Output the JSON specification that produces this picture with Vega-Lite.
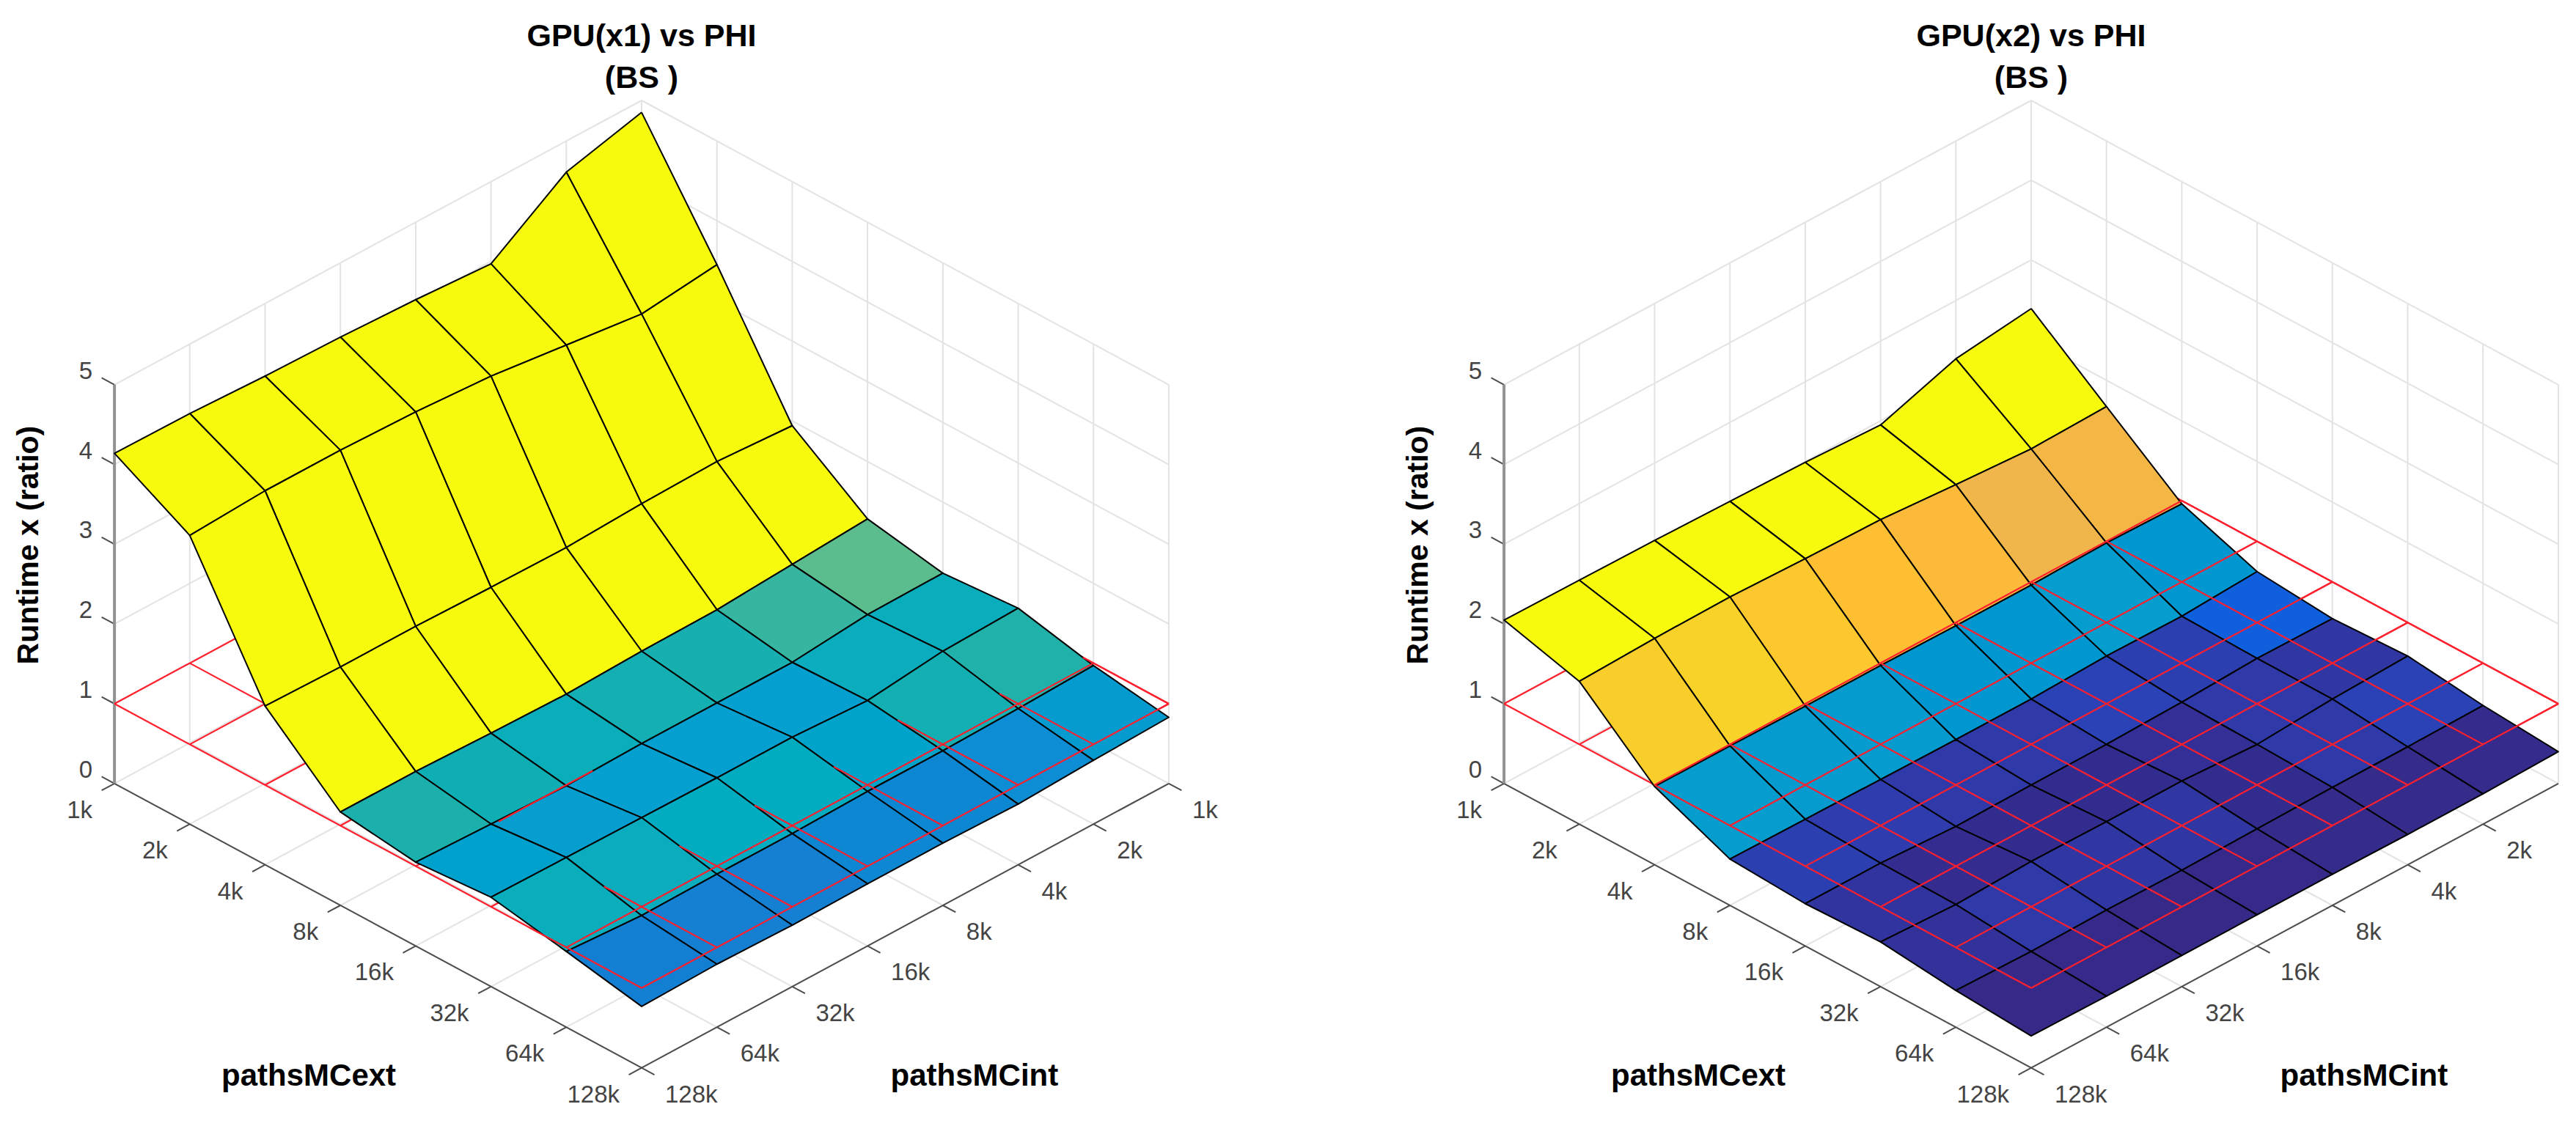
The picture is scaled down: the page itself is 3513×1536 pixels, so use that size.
{"$schema":"https://vega.github.io/schema/vega-lite/v6.json","width":3513,"height":1536,"autosize":{"type":"fit","contains":"padding"},"padding":0,"background":"white","view":{"stroke":null},
"config":{"text":{"font":"Liberation Sans"}},
"datasets":{
"surface":[
{"p":0,"ext":1,"int":1,"ratio":4.85},{"p":0,"ext":1,"int":2,"ratio":4.61},{"p":0,"ext":1,"int":4,"ratio":3.97},{"p":0,"ext":1,"int":8,"ratio":4.03},{"p":0,"ext":1,"int":16,"ratio":4.07},{"p":0,"ext":1,"int":32,"ratio":4.09},{"p":0,"ext":1,"int":64,"ratio":4.13},{"p":0,"ext":1,"int":128,"ratio":4.14},
{"p":0,"ext":2,"int":1,"ratio":3.45},{"p":0,"ext":2,"int":2,"ratio":3.34},{"p":0,"ext":2,"int":4,"ratio":3.46},{"p":0,"ext":2,"int":8,"ratio":3.58},{"p":0,"ext":2,"int":16,"ratio":3.64},{"p":0,"ext":2,"int":32,"ratio":3.67},{"p":0,"ext":2,"int":64,"ratio":3.67},{"p":0,"ext":2,"int":128,"ratio":3.62},
{"p":0,"ext":4,"int":1,"ratio":1.94},{"p":0,"ext":4,"int":2,"ratio":2.0},{"p":0,"ext":4,"int":4,"ratio":1.98},{"p":0,"ext":4,"int":8,"ratio":1.94},{"p":0,"ext":4,"int":16,"ratio":1.95},{"p":0,"ext":4,"int":32,"ratio":1.97},{"p":0,"ext":4,"int":64,"ratio":1.97},{"p":0,"ext":4,"int":128,"ratio":1.99},
{"p":0,"ext":8,"int":1,"ratio":1.28},{"p":0,"ext":8,"int":2,"ratio":1.22},{"p":0,"ext":8,"int":4,"ratio":1.16},{"p":0,"ext":8,"int":8,"ratio":1.15},{"p":0,"ext":8,"int":16,"ratio":1.12},{"p":0,"ext":8,"int":32,"ratio":1.14},{"p":0,"ext":8,"int":64,"ratio":1.17},{"p":0,"ext":8,"int":128,"ratio":1.17},
{"p":0,"ext":16,"int":1,"ratio":1.11},{"p":0,"ext":16,"int":2,"ratio":1.10},{"p":0,"ext":16,"int":4,"ratio":1.01},{"p":0,"ext":16,"int":8,"ratio":1.01},{"p":0,"ext":16,"int":16,"ratio":1.01},{"p":0,"ext":16,"int":32,"ratio":0.99},{"p":0,"ext":16,"int":64,"ratio":1.02},{"p":0,"ext":16,"int":128,"ratio":1.05},
{"p":0,"ext":32,"int":1,"ratio":1.18},{"p":0,"ext":32,"int":2,"ratio":1.15},{"p":0,"ext":32,"int":4,"ratio":1.04},{"p":0,"ext":32,"int":8,"ratio":1.09},{"p":0,"ext":32,"int":16,"ratio":1.09},{"p":0,"ext":32,"int":32,"ratio":1.10},{"p":0,"ext":32,"int":64,"ratio":1.11},{"p":0,"ext":32,"int":128,"ratio":1.12},
{"p":0,"ext":64,"int":1,"ratio":0.97},{"p":0,"ext":64,"int":2,"ratio":0.94},{"p":0,"ext":64,"int":4,"ratio":0.92},{"p":0,"ext":64,"int":8,"ratio":0.92},{"p":0,"ext":64,"int":16,"ratio":0.90},{"p":0,"ext":64,"int":32,"ratio":0.90},{"p":0,"ext":64,"int":64,"ratio":0.89},{"p":0,"ext":64,"int":128,"ratio":0.95},
{"p":0,"ext":128,"int":1,"ratio":0.83},{"p":0,"ext":128,"int":2,"ratio":0.80},{"p":0,"ext":128,"int":4,"ratio":0.76},{"p":0,"ext":128,"int":8,"ratio":0.78},{"p":0,"ext":128,"int":16,"ratio":0.78},{"p":0,"ext":128,"int":32,"ratio":0.77},{"p":0,"ext":128,"int":64,"ratio":0.79},{"p":0,"ext":128,"int":128,"ratio":0.77},
{"p":1,"ext":1,"int":1,"ratio":2.39},{"p":1,"ext":1,"int":2,"ratio":2.27},{"p":1,"ext":1,"int":4,"ratio":1.95},{"p":1,"ext":1,"int":8,"ratio":1.99},{"p":1,"ext":1,"int":16,"ratio":2.01},{"p":1,"ext":1,"int":32,"ratio":2.03},{"p":1,"ext":1,"int":64,"ratio":2.04},{"p":1,"ext":1,"int":128,"ratio":2.05},
{"p":1,"ext":2,"int":1,"ratio":1.67},{"p":1,"ext":2,"int":2,"ratio":1.65},{"p":1,"ext":2,"int":4,"ratio":1.71},{"p":1,"ext":2,"int":8,"ratio":1.78},{"p":1,"ext":2,"int":16,"ratio":1.80},{"p":1,"ext":2,"int":32,"ratio":1.83},{"p":1,"ext":2,"int":64,"ratio":1.82},{"p":1,"ext":2,"int":128,"ratio":1.79},
{"p":1,"ext":4,"int":1,"ratio":0.96},{"p":1,"ext":4,"int":2,"ratio":0.98},{"p":1,"ext":4,"int":4,"ratio":0.96},{"p":1,"ext":4,"int":8,"ratio":0.96},{"p":1,"ext":4,"int":16,"ratio":0.97},{"p":1,"ext":4,"int":32,"ratio":0.97},{"p":1,"ext":4,"int":64,"ratio":0.98},{"p":1,"ext":4,"int":128,"ratio":0.98},
{"p":1,"ext":8,"int":1,"ratio":0.62},{"p":1,"ext":8,"int":2,"ratio":0.57},{"p":1,"ext":8,"int":4,"ratio":0.58},{"p":1,"ext":8,"int":8,"ratio":0.55},{"p":1,"ext":8,"int":16,"ratio":0.55},{"p":1,"ext":8,"int":32,"ratio":0.56},{"p":1,"ext":8,"int":64,"ratio":0.57},{"p":1,"ext":8,"int":128,"ratio":0.58},
{"p":1,"ext":16,"int":1,"ratio":0.54},{"p":1,"ext":16,"int":2,"ratio":0.55},{"p":1,"ext":16,"int":4,"ratio":0.51},{"p":1,"ext":16,"int":8,"ratio":0.49},{"p":1,"ext":16,"int":16,"ratio":0.49},{"p":1,"ext":16,"int":32,"ratio":0.48},{"p":1,"ext":16,"int":64,"ratio":0.53},{"p":1,"ext":16,"int":128,"ratio":0.53},
{"p":1,"ext":32,"int":1,"ratio":0.58},{"p":1,"ext":32,"int":2,"ratio":0.55},{"p":1,"ext":32,"int":4,"ratio":0.49},{"p":1,"ext":32,"int":8,"ratio":0.54},{"p":1,"ext":32,"int":16,"ratio":0.54},{"p":1,"ext":32,"int":32,"ratio":0.55},{"p":1,"ext":32,"int":64,"ratio":0.52},{"p":1,"ext":32,"int":128,"ratio":0.56},
{"p":1,"ext":64,"int":1,"ratio":0.47},{"p":1,"ext":64,"int":2,"ratio":0.46},{"p":1,"ext":64,"int":4,"ratio":0.46},{"p":1,"ext":64,"int":8,"ratio":0.45},{"p":1,"ext":64,"int":16,"ratio":0.44},{"p":1,"ext":64,"int":32,"ratio":0.45},{"p":1,"ext":64,"int":64,"ratio":0.44},{"p":1,"ext":64,"int":128,"ratio":0.46},
{"p":1,"ext":128,"int":1,"ratio":0.40},{"p":1,"ext":128,"int":2,"ratio":0.38},{"p":1,"ext":128,"int":4,"ratio":0.38},{"p":1,"ext":128,"int":8,"ratio":0.39},{"p":1,"ext":128,"int":16,"ratio":0.39},{"p":1,"ext":128,"int":32,"ratio":0.39},{"p":1,"ext":128,"int":64,"ratio":0.39},{"p":1,"ext":128,"int":128,"ratio":0.40}
],
"gridlines":[
{"e1":0,"n1":7,"z1":0,"e2":0,"n2":0,"z2":0},{"e1":0,"n1":7,"z1":1,"e2":0,"n2":0,"z2":1},{"e1":0,"n1":7,"z1":2,"e2":0,"n2":0,"z2":2},{"e1":0,"n1":7,"z1":3,"e2":0,"n2":0,"z2":3},{"e1":0,"n1":7,"z1":4,"e2":0,"n2":0,"z2":4},{"e1":0,"n1":7,"z1":5,"e2":0,"n2":0,"z2":5},
{"e1":0,"n1":0,"z1":0,"e2":7,"n2":0,"z2":0},{"e1":0,"n1":0,"z1":1,"e2":7,"n2":0,"z2":1},{"e1":0,"n1":0,"z1":2,"e2":7,"n2":0,"z2":2},{"e1":0,"n1":0,"z1":3,"e2":7,"n2":0,"z2":3},{"e1":0,"n1":0,"z1":4,"e2":7,"n2":0,"z2":4},{"e1":0,"n1":0,"z1":5,"e2":7,"n2":0,"z2":5},
{"e1":0,"n1":0,"z1":0,"e2":0,"n2":0,"z2":5},{"e1":0,"n1":1,"z1":0,"e2":0,"n2":1,"z2":5},{"e1":0,"n1":2,"z1":0,"e2":0,"n2":2,"z2":5},{"e1":0,"n1":3,"z1":0,"e2":0,"n2":3,"z2":5},{"e1":0,"n1":4,"z1":0,"e2":0,"n2":4,"z2":5},{"e1":0,"n1":5,"z1":0,"e2":0,"n2":5,"z2":5},{"e1":0,"n1":6,"z1":0,"e2":0,"n2":6,"z2":5},
{"e1":1,"n1":0,"z1":0,"e2":1,"n2":0,"z2":5},{"e1":2,"n1":0,"z1":0,"e2":2,"n2":0,"z2":5},{"e1":3,"n1":0,"z1":0,"e2":3,"n2":0,"z2":5},{"e1":4,"n1":0,"z1":0,"e2":4,"n2":0,"z2":5},{"e1":5,"n1":0,"z1":0,"e2":5,"n2":0,"z2":5},{"e1":6,"n1":0,"z1":0,"e2":6,"n2":0,"z2":5},{"e1":7,"n1":0,"z1":0,"e2":7,"n2":0,"z2":5},
{"e1":1,"n1":0,"z1":0,"e2":1,"n2":7,"z2":0},{"e1":2,"n1":0,"z1":0,"e2":2,"n2":7,"z2":0},{"e1":3,"n1":0,"z1":0,"e2":3,"n2":7,"z2":0},{"e1":4,"n1":0,"z1":0,"e2":4,"n2":7,"z2":0},{"e1":5,"n1":0,"z1":0,"e2":5,"n2":7,"z2":0},{"e1":6,"n1":0,"z1":0,"e2":6,"n2":7,"z2":0},{"e1":7,"n1":0,"z1":0,"e2":7,"n2":7,"z2":0},
{"e1":0,"n1":1,"z1":0,"e2":7,"n2":1,"z2":0},{"e1":0,"n1":2,"z1":0,"e2":7,"n2":2,"z2":0},{"e1":0,"n1":3,"z1":0,"e2":7,"n2":3,"z2":0},{"e1":0,"n1":4,"z1":0,"e2":7,"n2":4,"z2":0},{"e1":0,"n1":5,"z1":0,"e2":7,"n2":5,"z2":0},{"e1":0,"n1":6,"z1":0,"e2":7,"n2":6,"z2":0},{"e1":0,"n1":7,"z1":0,"e2":7,"n2":7,"z2":0}
],
"axisLines":[
{"e1":0,"n1":7,"z1":0,"e2":7,"n2":7,"z2":0},{"e1":7,"n1":7,"z1":0,"e2":7,"n2":0,"z2":0},
{"e1":0,"n1":7,"z1":0,"e2":0,"n2":7.17,"z2":0},{"e1":1,"n1":7,"z1":0,"e2":1,"n2":7.17,"z2":0},{"e1":2,"n1":7,"z1":0,"e2":2,"n2":7.17,"z2":0},{"e1":3,"n1":7,"z1":0,"e2":3,"n2":7.17,"z2":0},{"e1":4,"n1":7,"z1":0,"e2":4,"n2":7.17,"z2":0},{"e1":5,"n1":7,"z1":0,"e2":5,"n2":7.17,"z2":0},{"e1":6,"n1":7,"z1":0,"e2":6,"n2":7.17,"z2":0},{"e1":7,"n1":7,"z1":0,"e2":7,"n2":7.17,"z2":0},
{"e1":7,"n1":0,"z1":0,"e2":7.17,"n2":0,"z2":0},{"e1":7,"n1":1,"z1":0,"e2":7.17,"n2":1,"z2":0},{"e1":7,"n1":2,"z1":0,"e2":7.17,"n2":2,"z2":0},{"e1":7,"n1":3,"z1":0,"e2":7.17,"n2":3,"z2":0},{"e1":7,"n1":4,"z1":0,"e2":7.17,"n2":4,"z2":0},{"e1":7,"n1":5,"z1":0,"e2":7.17,"n2":5,"z2":0},{"e1":7,"n1":6,"z1":0,"e2":7.17,"n2":6,"z2":0},{"e1":7,"n1":7,"z1":0,"e2":7.17,"n2":7,"z2":0},
{"e1":0,"n1":7,"z1":0,"e2":-0.17,"n2":7,"z2":0},{"e1":0,"n1":7,"z1":1,"e2":-0.17,"n2":7,"z2":1},{"e1":0,"n1":7,"z1":2,"e2":-0.17,"n2":7,"z2":2},{"e1":0,"n1":7,"z1":3,"e2":-0.17,"n2":7,"z2":3},{"e1":0,"n1":7,"z1":4,"e2":-0.17,"n2":7,"z2":4},{"e1":0,"n1":7,"z1":5,"e2":-0.17,"n2":7,"z2":5}
],
"zAxis":[{"e1":0,"n1":7,"z1":0,"e2":0,"n2":7,"z2":5}],
"redMesh":[
{"e1":0,"n1":0,"e2":0,"n2":7},{"e1":1,"n1":0,"e2":1,"n2":7},{"e1":2,"n1":0,"e2":2,"n2":7},{"e1":3,"n1":0,"e2":3,"n2":7},{"e1":4,"n1":0,"e2":4,"n2":7},{"e1":5,"n1":0,"e2":5,"n2":7},{"e1":6,"n1":0,"e2":6,"n2":7},{"e1":7,"n1":0,"e2":7,"n2":7},
{"e1":0,"n1":0,"e2":7,"n2":0},{"e1":0,"n1":1,"e2":7,"n2":1},{"e1":0,"n1":2,"e2":7,"n2":2},{"e1":0,"n1":3,"e2":7,"n2":3},{"e1":0,"n1":4,"e2":7,"n2":4},{"e1":0,"n1":5,"e2":7,"n2":5},{"e1":0,"n1":6,"e2":7,"n2":6},{"e1":0,"n1":7,"e2":7,"n2":7}
],
"redAbove":[
{"p":0,"e1":7,"n1":0,"e2":7,"n2":7},{"p":0,"e1":6,"n1":0,"e2":6,"n2":7},{"p":0,"e1":4,"n1":5.9,"e2":4,"n2":4.65},
{"p":0,"e1":5.86,"n1":0,"e2":7,"n2":0},{"p":0,"e1":5.75,"n1":1,"e2":7,"n2":1},{"p":0,"e1":5.4,"n1":2,"e2":7,"n2":2},{"p":0,"e1":5.55,"n1":3,"e2":7,"n2":3},{"p":0,"e1":5.5,"n1":4,"e2":7,"n2":4},{"p":0,"e1":5.5,"n1":5,"e2":7,"n2":5},{"p":0,"e1":5.5,"n1":6,"e2":7,"n2":6},{"p":0,"e1":5.5,"n1":7,"e2":7,"n2":7},
{"p":1,"e1":2,"n1":0,"e2":2,"n2":7},{"p":1,"e1":3,"n1":0,"e2":3,"n2":7},{"p":1,"e1":4,"n1":0,"e2":4,"n2":7},{"p":1,"e1":5,"n1":0,"e2":5,"n2":7},{"p":1,"e1":6,"n1":0,"e2":6,"n2":7},{"p":1,"e1":7,"n1":0,"e2":7,"n2":7},
{"p":1,"e1":2,"n1":0,"e2":7,"n2":0},{"p":1,"e1":2,"n1":1,"e2":7,"n2":1},{"p":1,"e1":2,"n1":2,"e2":7,"n2":2},{"p":1,"e1":2,"n1":3,"e2":7,"n2":3},{"p":1,"e1":2,"n1":4,"e2":7,"n2":4},{"p":1,"e1":2,"n1":5,"e2":7,"n2":5},{"p":1,"e1":2,"n1":6,"e2":7,"n2":6},{"p":1,"e1":2,"n1":7,"e2":7,"n2":7}
],
"tickLabels":[{"k":0,"label":"1k"},{"k":1,"label":"2k"},{"k":2,"label":"4k"},{"k":3,"label":"8k"},{"k":4,"label":"16k"},{"k":5,"label":"32k"},{"k":6,"label":"64k"},{"k":7,"label":"128k"}],
"zLabels":[{"z":0,"label":"0"},{"z":1,"label":"1"},{"z":2,"label":"2"},{"z":3,"label":"3"},{"z":4,"label":"4"},{"z":5,"label":"5"}],
"titles":[{"p":0,"e":0,"n":0,"z":5.8,"label":"GPU(x1) vs PHI"},{"p":0,"e":0,"n":0,"z":5.28,"label":"(BS )"},{"p":1,"e":0,"n":0,"z":5.8,"label":"GPU(x2) vs PHI"},{"p":1,"e":0,"n":0,"z":5.28,"label":"(BS )"}],
"axisTitles":[{"e":4.89,"n":9.31,"z":0,"label":"pathsMCext"},{"e":9.31,"n":4.89,"z":0,"label":"pathsMCint"}],
"zTitle":[{"e":-3.5,"n":4.63,"z":0,"label":"Runtime x (ratio)"}]
},
"encoding":{
"x":{"field":"sx","type":"quantitative","scale":{"domain":[0,3513],"nice":false,"zero":false},"axis":null},
"y":{"field":"sy","type":"quantitative","scale":{"domain":[0,1536],"reverse":true,"nice":false,"zero":false},"axis":null}
},
"layer":[
{"data":{"name":"gridlines"},"transform":[{"calculate":"[0,1]","as":"p"},{"flatten":["p"]},{"calculate":"875+1895*datum.p+102.7*(datum.e1-datum.n1)","as":"sx"},{"calculate":"681+55.4*(datum.e1+datum.n1)-108.8*datum.z1","as":"sy"},{"calculate":"875+1895*datum.p+102.7*(datum.e2-datum.n2)","as":"sx2"},{"calculate":"681+55.4*(datum.e2+datum.n2)-108.8*datum.z2","as":"sy2"}],
"mark":{"type":"rule","stroke":"#E3E3E3","strokeWidth":2},"encoding":{"x2":{"field":"sx2"},"y2":{"field":"sy2"}}},
{"data":{"name":"axisLines"},"transform":[{"calculate":"[0,1]","as":"p"},{"flatten":["p"]},{"filter":"!(datum.p==1&&datum.e2>7&&datum.n1==0)"},{"calculate":"875+1895*datum.p+102.7*(datum.e1-datum.n1)","as":"sx"},{"calculate":"681+55.4*(datum.e1+datum.n1)-108.8*datum.z1","as":"sy"},{"calculate":"875+1895*datum.p+102.7*(datum.e2-datum.n2)","as":"sx2"},{"calculate":"681+55.4*(datum.e2+datum.n2)-108.8*datum.z2","as":"sy2"}],
"mark":{"type":"rule","stroke":"#4D4D4D","strokeWidth":2},"encoding":{"x2":{"field":"sx2"},"y2":{"field":"sy2"}}},
{"data":{"name":"zAxis"},"transform":[{"calculate":"[0,1]","as":"p"},{"flatten":["p"]},{"calculate":"875+1895*datum.p+102.7*(datum.e1-datum.n1)","as":"sx"},{"calculate":"681+55.4*(datum.e1+datum.n1)-108.8*datum.z1","as":"sy"},{"calculate":"875+1895*datum.p+102.7*(datum.e2-datum.n2)","as":"sx2"},{"calculate":"681+55.4*(datum.e2+datum.n2)-108.8*datum.z2","as":"sy2"}],
"mark":{"type":"rule","stroke":"#929292","strokeWidth":4},"encoding":{"x2":{"field":"sx2"},"y2":{"field":"sy2"}}},
{"data":{"name":"redMesh"},"transform":[{"calculate":"[0,1]","as":"p"},{"flatten":["p"]},{"calculate":"875+1895*datum.p+102.7*(datum.e1-datum.n1)","as":"sx"},{"calculate":"681+55.4*(datum.e1+datum.n1)-108.8","as":"sy"},{"calculate":"875+1895*datum.p+102.7*(datum.e2-datum.n2)","as":"sx2"},{"calculate":"681+55.4*(datum.e2+datum.n2)-108.8","as":"sy2"}],
"mark":{"type":"rule","stroke":"#FF1F2D","strokeWidth":2.2},"encoding":{"x2":{"field":"sx2"},"y2":{"field":"sy2"}}},
{"data":{"name":"surface"},"transform":[{"calculate":"round(log(datum.ext)/LN2)","as":"e"},{"calculate":"round(log(datum.int)/LN2)","as":"n"},{"calculate":"[0,1,2,3,4]","as":"corner"},{"flatten":["corner"]},
{"calculate":"datum.e-((datum.corner==1||datum.corner==2)?1:0)","as":"e0"},{"calculate":"datum.n-((datum.corner==2||datum.corner==3)?1:0)","as":"n0"},
{"filter":"datum.e0>=0&&datum.n0>=0&&datum.e0<=6&&datum.n0<=6"},
{"calculate":"datum.p+'-'+datum.e0+'-'+datum.n0","as":"face"},
{"calculate":"datum.corner==0?datum.ratio:null","as":"first"},
{"joinaggregate":[{"op":"max","field":"first","as":"level"}],"groupby":["face"]},
{"calculate":"875+1895*datum.p+102.7*(datum.e-datum.n)","as":"sx"},{"calculate":"681+55.4*(datum.e+datum.n)-108.8*datum.ratio","as":"sy"}],
"mark":{"type":"line","filled":true,"stroke":"#000000","strokeWidth":2,"strokeJoin":"round"},
"encoding":{"detail":{"field":"face","type":"nominal"},"order":{"field":"corner","type":"quantitative"},
"fill":{"field":"level","type":"quantitative","legend":null,"scale":{"clamp":true,"domain":[0.44,0.5,0.55,0.58,0.62,0.9,0.94,0.97,1.01,1.1,1.16,1.22,1.28,1.65,1.71,1.78,1.83,1.93],"range":["#352A87","#332D91","#2F39A8","#2A42B6","#1060DD","#1580D2","#0D8DD3","#069BCE","#05A0CF","#0AACBE","#17AFB0","#36B5A0","#5BBC8E","#F0B64C","#FCBA3A","#FFBF33","#F8D228","#F8FA0D"]}}}},
{"data":{"name":"redAbove"},"transform":[{"calculate":"875+1895*datum.p+102.7*(datum.e1-datum.n1)","as":"sx"},{"calculate":"681+55.4*(datum.e1+datum.n1)-108.8","as":"sy"},{"calculate":"875+1895*datum.p+102.7*(datum.e2-datum.n2)","as":"sx2"},{"calculate":"681+55.4*(datum.e2+datum.n2)-108.8","as":"sy2"}],
"mark":{"type":"rule","stroke":"#FF1F2D","strokeWidth":2.2},"encoding":{"x2":{"field":"sx2"},"y2":{"field":"sy2"}}},
{"data":{"name":"tickLabels"},"transform":[{"calculate":"[0,1]","as":"p"},{"flatten":["p"]},{"calculate":"875+1895*datum.p+102.7*(datum.k-7)","as":"sx"},{"calculate":"681+55.4*(datum.k+7)","as":"sy"}],
"mark":{"type":"text","fontSize":33,"color":"#444444","align":"right","baseline":"middle","dx":-30,"dy":37},"encoding":{"text":{"field":"label"}}},
{"data":{"name":"tickLabels"},"transform":[{"calculate":"[0,1]","as":"p"},{"flatten":["p"]},{"filter":"!(datum.p==1&&datum.k==0)"},{"calculate":"875+1895*datum.p+102.7*(7-datum.k)","as":"sx"},{"calculate":"681+55.4*(datum.k+7)","as":"sy"}],
"mark":{"type":"text","fontSize":33,"color":"#444444","align":"left","baseline":"middle","dx":32,"dy":37},"encoding":{"text":{"field":"label"}}},
{"data":{"name":"zLabels"},"transform":[{"calculate":"[0,1]","as":"p"},{"flatten":["p"]},{"calculate":"875+1895*datum.p-718.9","as":"sx"},{"calculate":"681+55.4*7-108.8*datum.z","as":"sy"}],
"mark":{"type":"text","fontSize":33,"color":"#444444","align":"right","baseline":"middle","dx":-30,"dy":-18},"encoding":{"text":{"field":"label"}}},
{"data":{"name":"titles"},"transform":[{"calculate":"875+1895*datum.p+102.7*(datum.e-datum.n)","as":"sx"},{"calculate":"681+55.4*(datum.e+datum.n)-108.8*datum.z","as":"sy"}],
"mark":{"type":"text","fontSize":43,"fontWeight":"bold","color":"#000000","align":"center","baseline":"middle"},"encoding":{"text":{"field":"label"}}},
{"data":{"name":"axisTitles"},"transform":[{"calculate":"[0,1]","as":"p"},{"flatten":["p"]},{"calculate":"875+1895*datum.p+102.7*(datum.e-datum.n)","as":"sx"},{"calculate":"681+55.4*(datum.e+datum.n)-108.8*datum.z","as":"sy"}],
"mark":{"type":"text","fontSize":42,"fontWeight":"bold","color":"#000000","align":"center","baseline":"middle"},"encoding":{"text":{"field":"label"}}},
{"data":{"name":"zTitle"},"transform":[{"calculate":"[0,1]","as":"p"},{"flatten":["p"]},{"calculate":"875+1895*datum.p+102.7*(datum.e-datum.n)","as":"sx"},{"calculate":"681+55.4*(datum.e+datum.n)-108.8*datum.z","as":"sy"}],
"mark":{"type":"text","fontSize":41,"fontWeight":"bold","color":"#000000","align":"center","baseline":"middle","angle":270},"encoding":{"text":{"field":"label"}}}
]}
